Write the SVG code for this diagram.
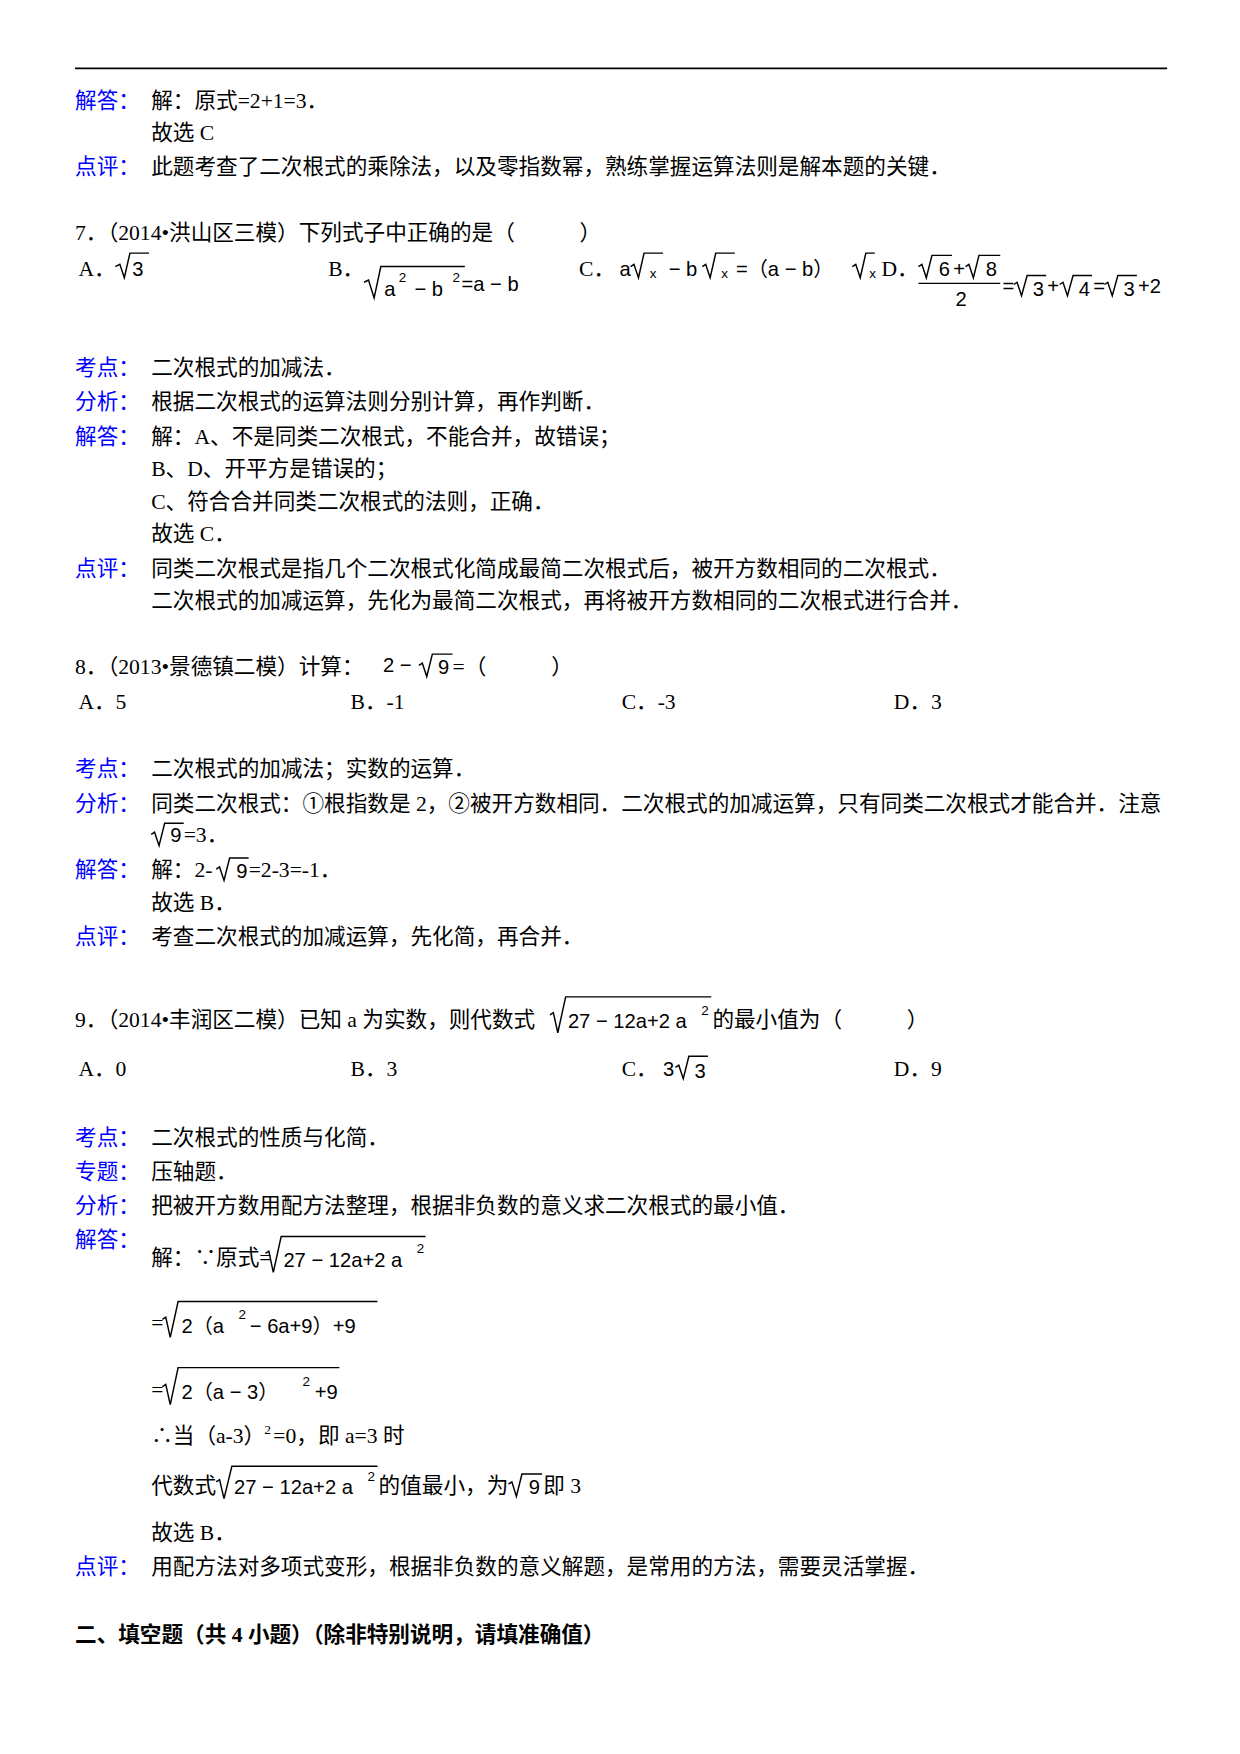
<svg xmlns="http://www.w3.org/2000/svg" width="1240" height="1754" viewBox="0 0 1240 1754">
<style>
text{font-family:"Liberation Serif","Noto Sans CJK SC",serif;font-size:19.3px;fill:#000}
.l{fill:#0000ff}
.m{font-family:"Liberation Sans","Noto Sans CJK SC",sans-serif;font-size:18px}
.s{font-size:12px}
.r{fill:none;stroke:#000;stroke-width:1.3}
.b{font-weight:bold}
</style>
<rect width="1240" height="1754" fill="#fff"/>
<g transform="scale(1.1201)">
<line x1="67" y1="61" x2="1042" y2="61" stroke="#000" stroke-width="1.5"/>
<g id="q6">
<text x="67" y="96" class="l">解答：</text><text x="135" y="96">解：原式=2+1=3．</text>
<text x="135" y="125">故选 C</text>
<text x="67" y="155" class="l">点评：</text><text x="135" y="155">此题考查了二次根式的乘除法，以及零指数幂，熟练掌握运算法则是解本题的关键．</text>
</g>
<g id="q7">
<text x="67" y="214">7．（2014•洪山区三模）下列式子中正确的是（　　　）</text>
<text x="70" y="246">A．</text>
<path class="r" d="M103,238 L107,236 L111,248 L116,226 L133,226"/><text x="118" y="246" class="m">3</text>
<text x="293" y="246">B．</text>
<path class="r" d="M325,252 L329,250 L334,266 L340,238 L415,238"/>
<text x="343" y="264" class="m">a</text><text x="356" y="252" class="m s">2</text><text x="370" y="264" class="m">− b</text><text x="404" y="252" class="m s">2</text><text x="412" y="260" class="m">=a − b</text>
<text x="517" y="246">C．</text>
<text x="553" y="246" class="m">a</text><path class="r" d="M563,238 L566,236 L570,248 L575,226 L592,226"/><text x="580" y="248" class="m s">x</text>
<text x="597" y="246" class="m">− b</text><path class="r" d="M627,238 L630,236 L634,248 L639,226 L656,226"/><text x="644" y="248" class="m s">x</text>
<text x="657" y="246" class="m">=（a − b）</text><path class="r" d="M761,238 L764,236 L768,248 L773,226 L781,226"/><text x="776" y="248" class="m s">x</text>
<text x="787" y="246">D．</text>
<path class="r" d="M820,238 L823,236 L827,248 L832,228 L850,228"/><text x="838" y="246" class="m">6</text><text x="851" y="246" class="m">+</text>
<path class="r" d="M862,238 L865,236 L869,248 L874,228 L893,228"/><text x="880" y="246" class="m">8</text>
<line x1="820" y1="253" x2="893" y2="253" stroke="#000" stroke-width="1"/><text x="853" y="273" class="m">2</text>
<text x="895" y="262" class="m">=</text><path class="r" d="M905,254 L908,252 L912,264 L917,246 L934,246"/><text x="922" y="264" class="m">3</text>
<text x="935" y="262" class="m">+</text><path class="r" d="M946,254 L949,252 L953,264 L958,246 L975,246"/><text x="963" y="264" class="m">4</text>
<text x="976" y="262" class="m">=</text><path class="r" d="M986,254 L989,252 L993,264 L998,246 L1015,246"/><text x="1003" y="264" class="m">3</text><text x="1016" y="262" class="m">+2</text>
<text x="67" y="335" class="l">考点：</text><text x="135" y="335">二次根式的加减法．</text>
<text x="67" y="365" class="l">分析：</text><text x="135" y="365">根据二次根式的运算法则分别计算，再作判断．</text>
<text x="67" y="396" class="l">解答：</text><text x="135" y="396">解：A、不是同类二次根式，不能合并，故错误；</text>
<text x="135" y="425">B、D、开平方是错误的；</text>
<text x="135" y="454">C、符合合并同类二次根式的法则，正确．</text>
<text x="135" y="483">故选 C．</text>
<text x="67" y="514" class="l">点评：</text><text x="135" y="514">同类二次根式是指几个二次根式化简成最简二次根式后，被开方数相同的二次根式．</text>
<text x="135" y="543">二次根式的加减运算，先化为最简二次根式，再将被开方数相同的二次根式进行合并．</text>
</g>
<g id="q8">
<text x="67" y="602">8．（2013•景德镇二模）计算：</text>
<text x="342" y="600" class="m">2 −</text><path class="r" d="M374,594 L377,592 L381,604 L386,584 L404,584"/><text x="391" y="602" class="m">9</text><text x="404" y="602">=（　　　）</text>
<text x="70" y="633">A．5</text><text x="313" y="633">B．-1</text><text x="555" y="633">C．-3</text><text x="798" y="633">D．3</text>
<text x="67" y="693" class="l">考点：</text><text x="135" y="693">二次根式的加减法；实数的运算．</text>
<text x="67" y="724" class="l">分析：</text><text x="135" y="724">同类二次根式：①根指数是 2，②被开方数相同．二次根式的加减运算，只有同类二次根式才能合并．注意</text>
<path class="r" d="M135,745 L138,743 L142,755 L147,735 L164,735"/><text x="152" y="752" class="m">9</text><text x="164" y="752">=3．</text>
<text x="67" y="783" class="l">解答：</text><text x="135" y="783">解：2-</text><path class="r" d="M193,776 L196,774 L200,786 L205,766 L222,766"/><text x="211" y="784" class="m">9</text><text x="222" y="783">=2-3=-1．</text>
<text x="135" y="812">故选 B．</text>
<text x="67" y="843" class="l">点评：</text><text x="135" y="843">考查二次根式的加减运算，先化简，再合并．</text>
</g>
<g id="q9">
<text x="67" y="917">9．（2014•丰润区二模）已知 a 为实数，则代数式</text>
<path class="r" d="M491,906 L494,904 L498,922 L505,890 L635,890"/>
<text x="507" y="918" class="m">27 − 12a+2 a</text><text x="626" y="906" class="m s">2</text><text x="636" y="917">的最小值为（　　　）</text>
<text x="70" y="961">A．0</text><text x="313" y="961">B．3</text><text x="555" y="961">C．</text><text x="592" y="961" class="m">3</text>
<path class="r" d="M603,953 L606,951 L610,963 L615,943 L632,943"/><text x="620" y="962" class="m">3</text><text x="798" y="961">D．9</text>
<text x="67" y="1022" class="l">考点：</text><text x="135" y="1022">二次根式的性质与化简．</text>
<text x="67" y="1053" class="l">专题：</text><text x="135" y="1053">压轴题．</text>
<text x="67" y="1083" class="l">分析：</text><text x="135" y="1083">把被开方数用配方法整理，根据非负数的意义求二次根式的最小值．</text>
<text x="67" y="1113" class="l">解答：</text>
<text x="135" y="1129">解：∵原式=</text>
<path class="r" d="M237,1119 L240,1117 L244,1136 L251,1104 L380,1104"/><text x="253" y="1131" class="m">27 − 12a+2 a</text><text x="372" y="1119" class="m s">2</text>
<text x="135" y="1187">=</text>
<path class="r" d="M145,1178 L148,1176 L152,1194 L159,1162 L337,1162"/><text x="162" y="1190" class="m">2（a</text><text x="213" y="1178" class="m s">2</text><text x="223" y="1190" class="m">− 6a+9）+9</text>
<text x="135" y="1247">=</text>
<path class="r" d="M145,1238 L148,1236 L152,1254 L159,1221 L303,1221"/><text x="162" y="1249" class="m">2（a − 3）</text><text x="270" y="1237" class="m s">2</text><text x="281" y="1249" class="m">+9</text>
<text x="135" y="1288">∴当（a-3）</text><text x="236" y="1280" class="s">2</text><text x="244" y="1288">=0，即 a=3 时</text>
<text x="135" y="1333">代数式</text>
<path class="r" d="M193,1323 L196,1321 L200,1338 L207,1309 L337,1309"/><text x="209" y="1334" class="m">27 − 12a+2 a</text><text x="328" y="1322" class="m s">2</text>
<text x="338" y="1333">的值最小，为</text>
<path class="r" d="M454,1325 L457,1323 L461,1336 L466,1316 L484,1316"/><text x="472" y="1334" class="m">9</text><text x="485" y="1333">即 3</text>
<text x="135" y="1375">故选 B．</text>
<text x="67" y="1405" class="l">点评：</text><text x="135" y="1405">用配方法对多项式变形，根据非负数的意义解题，是常用的方法，需要灵活掌握．</text>
</g>
<g id="sec2">
<text x="67" y="1466" class="b">二、填空题（共 4 小题）（除非特别说明，请填准确值）</text>
</g>
</g>
</svg>
